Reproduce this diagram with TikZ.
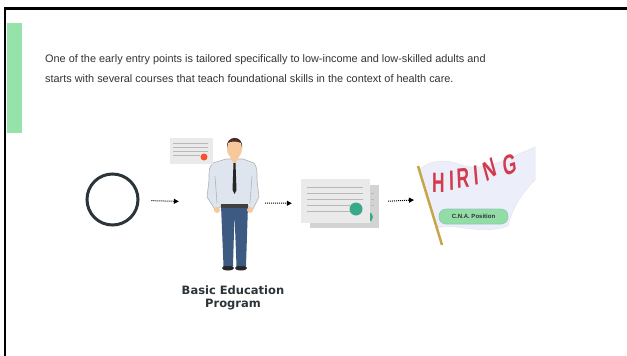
\documentclass[tikz,border=0pt]{standalone}
\usepackage{fontspec}
\setmainfont{Liberation Sans}
\newfontfamily\heavyfont{DejaVu Sans}
\usetikzlibrary{arrows.meta}

\definecolor{barGreen}{HTML}{95E3AB}
\definecolor{bodyGray}{HTML}{333333}
\definecolor{slate}{HTML}{2B3539}
\definecolor{paper}{HTML}{EAEAEA}
\definecolor{lineGray}{HTML}{B8B8B8}
\definecolor{sealRed}{HTML}{F4522C}
\definecolor{sealGreen}{HTML}{3AA98A}
\definecolor{skin}{HTML}{F6C89B}
\definecolor{hair}{HTML}{4A2F22}
\definecolor{shirt}{HTML}{DEE5EF}
\definecolor{jeans}{HTML}{3D5A82}
\definecolor{flagCloth}{HTML}{ECEFFA}
\definecolor{hiringRed}{HTML}{D13B4C}
\definecolor{poleGold}{HTML}{C9A54A}
\definecolor{pillGreen}{HTML}{93DCA6}

\tikzstyle{flow} = [densely dotted, line width=1pt, -{Triangle[length=5pt,width=5pt]}]
\tikzstyle{sheet} = [fill=paper, draw=none]
\tikzstyle{rule} = [lineGray, line width=1pt]
\tikzstyle{letter} = [text=hiringRed, inner sep=0, font=\bfseries\fontsize{28}{28}\selectfont,
                      transform shape, xscale=0.62]

\begin{document}
\begin{tikzpicture}[x=1pt, y=-1pt]
  \useasboundingbox (0,0) rectangle (627,356);
  % frame and side bar
  \draw[line width=2.5pt] (627,8.5) -- (5,8.5) -- (5,356);
  \fill[barGreen] (7,23) rectangle (22,132.5);
  \node[anchor=north west, align=left, inner sep=0, text=bodyGray,
        font=\fontsize{10.9}{20}\selectfont] (intro) at (45,54.5)
    {One of the early entry points is tailored specifically to low-income and low-skilled adults and\\
     starts with several courses that teach foundational skills in the context of health care.};

  % start
  \node[circle, draw=slate, line width=3pt, minimum size=51pt, inner sep=0] (start) at (112.5,199.5) {};

  % man
  \node[inner sep=0, minimum width=56pt, minimum height=135pt] (man) at (233,203) {};
  \fill[black!85] (228,268) ellipse [x radius=6, y radius=2.5];
  \fill[black!85] (241,268) ellipse [x radius=6, y radius=2.5];
  \fill[jeans] (221,205) -- (248,205) -- (246,266) -- (236.5,266) -- (234.5,214)
    -- (233,266) -- (223.5,266) -- cycle;
  \fill[shirt, draw=black!30, line width=0.6pt] (213,163) .. controls (209,168) .. (209,180)
    -- (207,197) -- (216,211) -- (221,206) -- (248,206) -- (252,211) -- (259,197)
    -- (257,180) .. controls (257,168) .. (254,163) -- (243,159) -- (226,159) -- cycle;
  \draw[black!30, line width=0.6pt] (215,176) -- (217,203) (252,176) -- (250,203);
  \fill[black!75] (221,204) rectangle (248,208);
  \fill[skin] (217,210) circle (3) (250,210) circle (3);
  \fill[skin] (230,157) -- (239,157) -- (234.5,165) -- cycle;
  \fill[black!85] (233.5,163) -- (235.5,163) -- (236.5,190) -- (234.5,194) -- (232.5,190) -- cycle;
  \fill[skin] (234.5,149) ellipse [x radius=7.5, y radius=9.5];
  \fill[hair] (227,148) .. controls (225,135) and (244,134) .. (242,148)
    -- (241,143) .. controls (237,141) and (231,141) .. (228,143) -- cycle;

  % certificate
  \fill[sheet] (170,138) rectangle (213,164);
  \foreach \y in {143.5,147,151} \draw[rule] (173,\y) -- (208,\y);
  \draw[rule] (173,155) -- (200,155);
  \fill[sealRed] (204,157) circle (3.5);

  % documents
  \node[inner sep=0, minimum width=78pt, minimum height=49pt] (docs) at (340,203.5) {};
  \fill[sheet, fill=paper!90!black] (310,185) rectangle (379,228);
  \foreach \y in {193,199,205} \draw[rule, line width=0.8pt] (371,\y) -- (374,\y);
  \fill[sealGreen] (368,217) circle (5);
  \fill[sheet] (301,179) rectangle (370,223);
  \foreach \y in {187,193,199} \draw[rule] (307,\y) -- (363,\y);
  \foreach \y in {205,211} \draw[rule] (307,\y) -- (350,\y);
  \fill[sealGreen] (356,209) circle (6.5);

  % hiring flag
  \node[inner sep=0, minimum width=117pt, minimum height=98pt, anchor=west] (flag) at (418,197) {};
  \filldraw[fill=flagCloth, draw=black!10, line width=0.5pt]
    (419,170) .. controls (432,158) and (448,160) .. (462,165)
    .. controls (482,172) and (505,160) .. (535,147) -- (535,180)
    .. controls (520,195) and (512,210) .. (508,226)
    .. controls (480,236) and (455,222) .. (437,228) -- cycle;
  \draw[poleGold, line width=2.5pt] (418,166) -- (442,245);
  \node[letter] (h1) at (438.5,182.5) {H};
  \node[letter, rotate=2] (i1) at (451.5,180.5) {I};
  \node[letter, rotate=4] (r1) at (463,178) {R};
  \node[letter, rotate=8] (i2) at (476,175) {I};
  \node[letter, rotate=24] (n1) at (490,170) {N};
  \node[letter, rotate=12] (g1) at (510,164.5) {G};
  \node[fill=pillGreen, draw=sealGreen!60, line width=0.6pt, rounded corners=7pt,
        minimum width=69pt, minimum height=15pt, inner sep=0,
        font=\bfseries\fontsize{6}{6}\selectfont, text=slate] (cna) at (473.5,216.5) {C.N.A. Position};

  % labels and arrows
  \node[align=center, inner sep=0, text=slate,
        font=\heavyfont\bfseries\fontsize{11.5}{12.5}\selectfont] (basic) at (233,298) {Basic Education\\Program};
  \draw[flow, shorten <=12pt, shorten >=26pt] (start) -- (man);
  \draw[flow, shorten <=4pt, shorten >=9pt] (man) -- (docs);
  \draw[flow, shorten <=9pt, shorten >=4pt] (docs) -- (flag);
\end{tikzpicture}
\end{document}
